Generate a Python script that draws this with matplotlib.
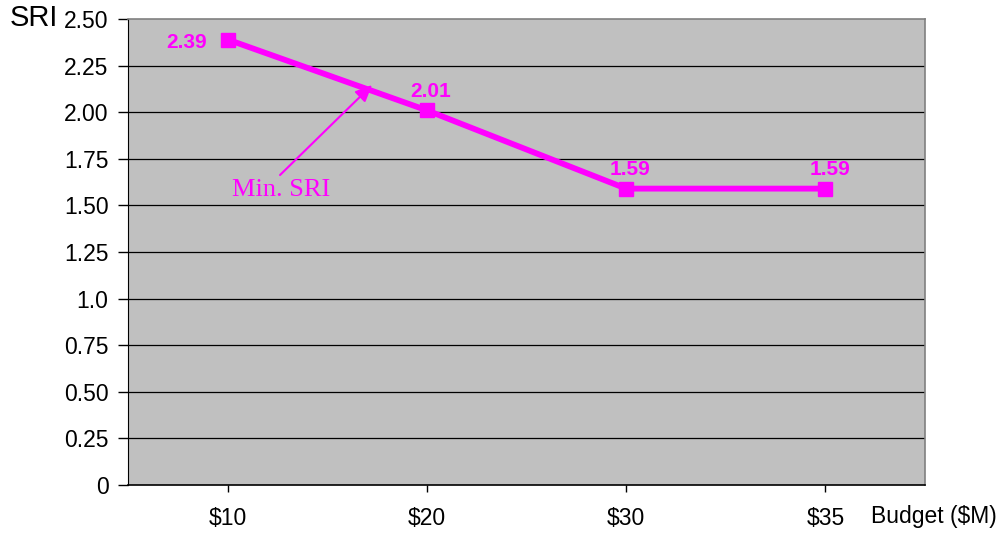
import matplotlib.pyplot as plt

budgets = ["$10", "$20", "$30", "$35"]
sri = [2.39, 2.01, 1.59, 1.59]
y_ticks = [0, 0.25, 0.5, 0.75, 1.0, 1.25, 1.5, 1.75, 2.0, 2.25, 2.5]
y_tick_labels = ["0", "0.25", "0.50", "0.75", "1.0", "1.25", "1.50", "1.75", "2.00", "2.25", "2.50"]

plt.rcParams['font.family'] = ['Liberation Sans', 'DejaVu Sans']
magenta = "#FF00FF"

fig = plt.figure(figsize=(10.02, 5.33), dpi=100)
ax = fig.add_axes([128 / 1002, 48 / 533, 797 / 1002, 466 / 533])
ax.set_facecolor("#C0C0C0")

x = list(range(len(budgets)))
ax.set_xlim(-0.5, len(budgets) - 0.5)
ax.set_ylim(0, 2.5)

# horizontal gridlines
for yv in y_ticks[1:-1]:
    ax.axhline(yv, color="black", lw=0.9, zorder=1)

ax.plot(x, sri, color=magenta, lw=4.2, marker="s", markersize=10, zorder=3)

# data labels
ax.annotate(f"{sri[0]:.2f}", (x[0], sri[0]), xytext=(-15, -2), textcoords="offset points",
            ha="right", va="center", color=magenta, fontsize=15, fontweight="bold")
for xi, v in zip(x[1:], sri[1:]):
    ax.annotate(f"{v:.2f}", (xi, v), xytext=(3, 7), textcoords="offset points",
                ha="center", va="bottom", color=magenta, fontsize=15, fontweight="bold")

# Min. SRI callout
ax.annotate("", xy=(0.725, 2.146), xytext=(0.263, 1.663),
            arrowprops=dict(arrowstyle="-|>,head_length=1.0,head_width=0.45", color=magenta,
                            lw=1.5, shrinkA=0, shrinkB=0), zorder=4)
ax.text(0.268, 1.58, "Min. SRI", ha="center", va="center", color=magenta,
        fontsize=19, family="Liberation Serif", zorder=4)

ax.set_yticks(y_ticks)
ax.set_yticklabels(y_tick_labels, fontsize=16.5)
ax.set_xticks(x)
ax.set_xticklabels(budgets, fontsize=16.5)
ax.tick_params(axis="y", length=7, width=1, pad=7, direction="out")
ax.tick_params(axis="x", length=5, width=1, pad=11, direction="out")

for side in ["top", "right"]:
    ax.spines[side].set_color("#808080")
    ax.spines[side].set_linewidth(1.2)
ax.spines["left"].set_color("black")
ax.spines["bottom"].set_color("black")
ax.spines["bottom"].set_linewidth(1.2)

fig.text(10 / 1002, 1 - 18 / 533, "SRI", fontsize=21, ha="left", va="center")
fig.text(997 / 1002, 1 - 517 / 533, "Budget ($M)", fontsize=16.5, ha="right", va="center")

fig.savefig("out.png", dpi=100)
